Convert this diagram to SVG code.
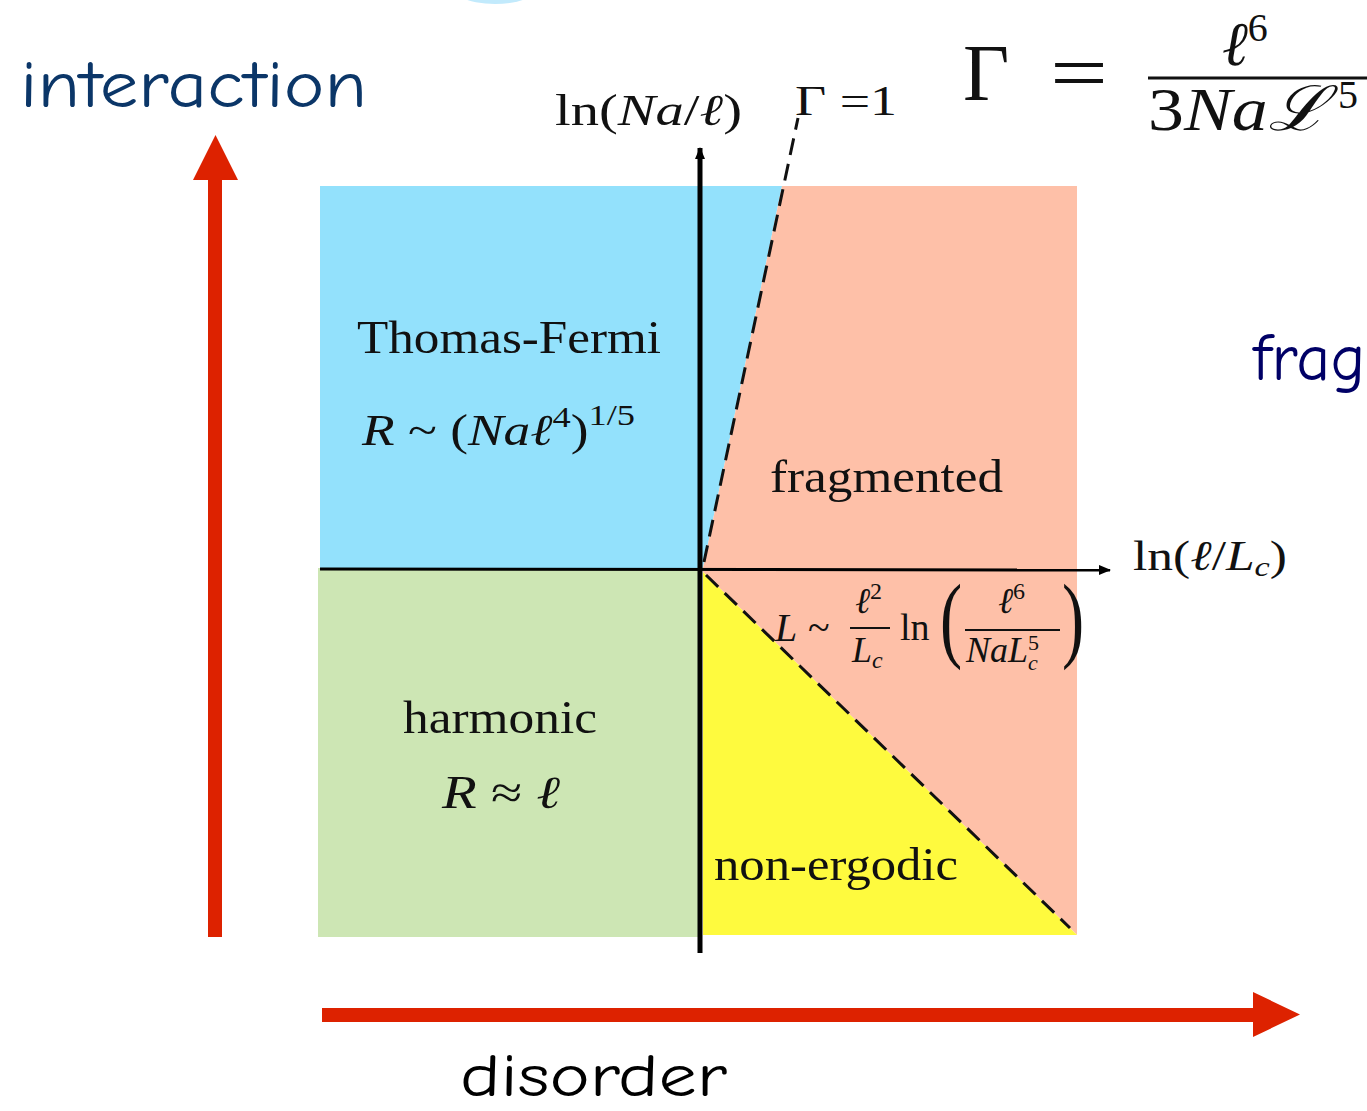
<svg xmlns="http://www.w3.org/2000/svg" width="1367" height="1111" viewBox="0 0 1367 1111">
<defs>
<style>
.serif{font-family:"Liberation Serif","DejaVu Serif",serif;fill:#111}
.it{font-style:italic}
.comic{font-family:"Comic Sans MS","Comic Neue","DejaVu Sans",sans-serif}
.lbl{font-size:46px}
.dash{stroke:#111;stroke-width:3;stroke-dasharray:17,9;fill:none}
.axis{stroke:#000;fill:none}
.red{fill:#dd2200}
</style>
<marker id="ah" markerWidth="12" markerHeight="10" refX="11" refY="5" orient="auto" markerUnits="userSpaceOnUse">
<path d="M0,0 L12,5 L0,10 Z" fill="#000"/>
</marker>
</defs>
<rect width="1367" height="1111" fill="#fff"/>
<ellipse cx="495" cy="-20" rx="50" ry="24" fill="#c2eafc"/>

<g id="regions">
<polygon id="thomas-fermi-region" points="320,186 782,186 703,568 320,568" fill="#93e1fc"/>
<polygon id="fragmented-region" points="782,186 1077,186 1077,935 703,572 703,568" fill="#fec0a8"/>
<polygon id="harmonic-region" points="318,568 700,568 700,937 318,937" fill="#cde6b4"/>
<polygon id="non-ergodic-region" points="703,572 1077,935 703,935" fill="#fefa3e"/>
</g>

<g id="connectors">
<line class="axis" x1="700" y1="953" x2="700" y2="148" stroke-width="5" marker-end="url(#ah)"/>
<line class="axis" x1="320" y1="569" x2="1110" y2="570" stroke-width="3" marker-end="url(#ah)"/>
<line class="dash" x1="704" y1="562" x2="798" y2="118"/>
<line class="dash" x1="706" y1="575" x2="1070" y2="928"/>
<path id="interaction-arrow" class="red" d="M208,937 L208,180 L193,180 L215.5,135 L238,180 L222,180 L222,937 Z"/>
<path id="disorder-arrow" class="red" d="M322,1008 L1253,1008 L1253,992 L1300,1014.5 L1253,1037 L1253,1022 L322,1022 Z"/>
</g>

<g id="interaction-label"><text class="comic" x="20" y="107" font-size="66" fill="#0b3668" textLength="347" lengthAdjust="spacingAndGlyphs">interaction</text></g>
<g id="disorder-label"><text class="comic" x="460" y="1096" font-size="60" fill="#000" textLength="267" lengthAdjust="spacingAndGlyphs">disorder</text></g>
<g id="frag-label"><text class="comic" x="1253" y="380" font-size="66" fill="#000066">frag</text></g>

<g id="y-axis-label"><text class="serif" x="555" y="125" font-size="44" textLength="187" lengthAdjust="spacingAndGlyphs">ln(<tspan class="it">Na</tspan>/<tspan class="it">ℓ</tspan>)</text></g>
<g id="gamma-one-label"><text class="serif" x="795" y="115" font-size="42" textLength="102" lengthAdjust="spacingAndGlyphs">Γ =1</text></g>

<g id="gamma-formula">
<text class="serif" x="963" y="100" font-size="80">Γ</text>
<text class="serif" x="1050" y="100" font-size="80" textLength="58" lengthAdjust="spacingAndGlyphs">=</text>
<text class="serif" x="1222" y="65" font-size="62"><tspan class="it">ℓ</tspan><tspan font-size="40" dy="-24">6</tspan></text>
<line x1="1148" y1="78" x2="1367" y2="78" stroke="#111" stroke-width="3"/>
<text class="serif" x="1148" y="130" font-size="62" textLength="180" lengthAdjust="spacingAndGlyphs">3<tspan class="it">Naℒ</tspan></text>
<text class="serif" x="1338" y="108" font-size="40">5</text>
</g>

<g id="thomas-fermi-label">
<text class="serif lbl" x="357" y="353" textLength="304" lengthAdjust="spacingAndGlyphs">Thomas-Fermi</text>
<text class="serif" x="362" y="445" font-size="44" textLength="273" lengthAdjust="spacingAndGlyphs"><tspan class="it">R</tspan> ~ (<tspan class="it">Naℓ</tspan><tspan font-size="30" dy="-18">4</tspan><tspan dy="18">)</tspan><tspan font-size="30" dy="-20">1/5</tspan></text>
</g>

<g id="fragmented-label">
<text class="serif lbl" x="770" y="492" textLength="233" lengthAdjust="spacingAndGlyphs">fragmented</text>
<text class="serif it" x="775" y="641" font-size="40">L</text>
<text class="serif" x="808" y="641" font-size="40">~</text>
<text class="serif" x="855" y="613" font-size="36"><tspan class="it">ℓ</tspan><tspan font-size="24" dy="-14">2</tspan></text>
<line x1="850" y1="628" x2="890" y2="628" stroke="#111" stroke-width="2"/>
<text class="serif" x="852" y="662" font-size="36"><tspan class="it">L</tspan><tspan class="it" font-size="24" dy="6">c</tspan></text>
<text class="serif" x="900" y="640" font-size="38">ln</text>
<text class="serif" x="940" y="650" font-size="95" transform="translate(940,0) scale(0.7,1) translate(-940,0)">(</text>
<text class="serif" x="998" y="613" font-size="36"><tspan class="it">ℓ</tspan><tspan font-size="24" dy="-14">6</tspan></text>
<line x1="965" y1="630" x2="1060" y2="630" stroke="#111" stroke-width="2"/>
<text class="serif" x="966" y="662" font-size="36"><tspan class="it">NaL</tspan><tspan font-size="22" dy="-12">5</tspan><tspan class="it" font-size="22" dx="-11" dy="20">c</tspan></text>
<text class="serif" x="1062" y="650" font-size="95" transform="translate(1062,0) scale(0.7,1) translate(-1062,0)">)</text>
</g>

<g id="x-axis-label"><text class="serif" x="1133" y="570" font-size="42" textLength="154" lengthAdjust="spacingAndGlyphs">ln(<tspan class="it">ℓ</tspan>/<tspan class="it">L</tspan><tspan class="it" font-size="28" dy="6">c</tspan><tspan dy="-6">)</tspan></text></g>

<g id="harmonic-label">
<text class="serif lbl" x="403" y="733" textLength="194" lengthAdjust="spacingAndGlyphs">harmonic</text>
<text class="serif" x="442" y="808" font-size="46" textLength="118" lengthAdjust="spacingAndGlyphs"><tspan class="it">R</tspan> ≈ <tspan class="it">ℓ</tspan></text>
</g>

<g id="non-ergodic-label"><text class="serif lbl" x="714" y="880" textLength="244" lengthAdjust="spacingAndGlyphs">non-ergodic</text></g>
</svg>
